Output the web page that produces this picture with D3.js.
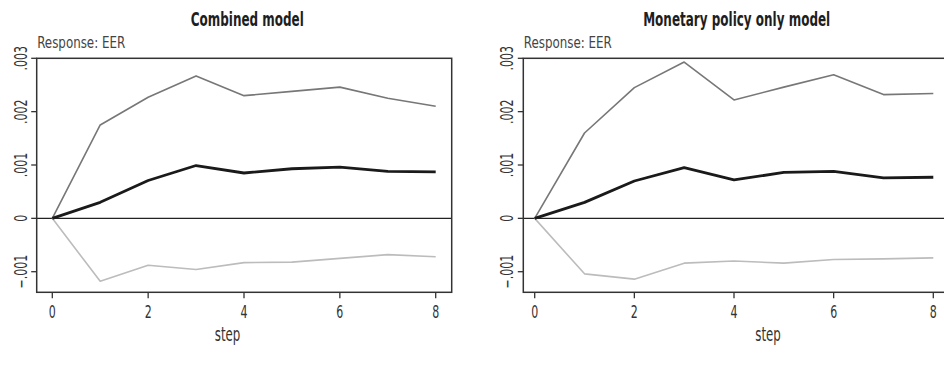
<!DOCTYPE html>
<html>
<head>
<meta charset="utf-8">
<script src="https://cdn.jsdelivr.net/npm/d3@7"></script>
<style>
  body { margin: 0; background: #fff; }
  svg text { font-family: "DejaVu Sans Condensed", "DejaVu Sans", sans-serif; font-stretch: condensed; }
</style>
</head>
<body>
<svg id="chart" width="944" height="377"></svg>
<script>
var steps = [0, 1, 2, 3, 4, 5, 6, 7, 8];
var xTicks = [0, 2, 4, 6, 8];
var yTicks = [-0.001, 0, 0.001, 0.002, 0.003];
var yTickLabels = ["\u2212.001", "0", ".001", ".002", ".003"];
var titles = ["Combined model", "Monetary policy only model"];

// combined model: upper band, irf, lower band
var combinedUpper = [0, 0.00175, 0.00227, 0.00267, 0.0023, 0.00238, 0.00246, 0.00225, 0.0021];
var combinedIrf   = [0, 0.0003, 0.00071, 0.00099, 0.00085, 0.00093, 0.00096, 0.00088, 0.00087];
var combinedLower = [0, -0.00118, -0.00088, -0.00096, -0.00083, -0.00082, -0.00075, -0.00068, -0.00072];

// monetary policy only model
var monetaryUpper = [0, 0.0016, 0.00245, 0.00293, 0.00222, 0.00246, 0.00269, 0.00232, 0.00234];
var monetaryIrf   = [0, 0.0003, 0.0007, 0.00095, 0.00072, 0.00086, 0.00088, 0.00076, 0.00077];
var monetaryLower = [0, -0.00104, -0.00114, -0.00084, -0.0008, -0.00084, -0.00077, -0.00076, -0.00074];

var svg = d3.select("#chart");

var panels = [
  {title: titles[0], upper: combinedUpper, irf: combinedIrf, lower: combinedLower,
   left: 36.7, right: 451.7, x0: 52.3, x8: 435.7, titleX: 247.3, titleW: 113, stepX: 227.5},
  {title: titles[1], upper: monetaryUpper, irf: monetaryIrf, lower: monetaryLower,
   left: 523.3, right: 950, x0: 534.7, x8: 933.3, titleX: 736.7, titleW: 187, stepX: 768}
];

var plotTop = 58.3, plotBottom = 292.3;

// text squeezed horizontally to mimic the condensed face of the original
function squeezed(g, str, x, y, size, sx, rot) {
  return g.append("text")
    .attr("transform", "translate(" + x + "," + y + ") rotate(" + (rot || 0) + ") scale(" + sx + ",1)")
    .attr("text-anchor", "middle")
    .attr("font-size", size)
    .attr("fill", "#333")
    .text(str);
}

panels.forEach(function(p) {
  var g = svg.append("g");

  var x = d3.scaleLinear().domain([0, 8]).range([p.x0, p.x8]);
  var y = d3.scaleLinear().domain([-0.001, 0.003]).range([271.7, 58.3]);

  // title
  g.append("text")
    .attr("x", p.titleX)
    .attr("y", 26)
    .attr("text-anchor", "middle")
    .attr("font-size", 20)
    .attr("font-weight", "bold")
    .attr("textLength", p.titleW)
    .attr("lengthAdjust", "spacingAndGlyphs")
    .attr("fill", "#1e1e1e")
    .text(p.title);

  g.append("text")
    .attr("x", p.left + 0.5)
    .attr("y", 48.3)
    .attr("font-size", 16)
    .attr("textLength", 88)
    .attr("lengthAdjust", "spacingAndGlyphs")
    .attr("fill", "#444")
    .text("Response: EER");

  // zero line
  g.append("line")
    .attr("x1", p.left).attr("x2", p.right)
    .attr("y1", y(0)).attr("y2", y(0))
    .attr("stroke", "#222")
    .attr("stroke-width", 1.3);

  var line = d3.line()
    .x(function(d, i) { return x(steps[i]); })
    .y(function(d) { return y(d); });

  var series = [
    {data: p.lower, color: "#bcbcbc", width: 1.6},
    {data: p.upper, color: "#777", width: 1.6},
    {data: p.irf, color: "#1a1a1a", width: 2.8}
  ];
  series.forEach(function(s) {
    g.append("path")
      .datum(s.data)
      .attr("fill", "none")
      .attr("stroke", s.color)
      .attr("stroke-width", s.width)
      .attr("stroke-linejoin", "round")
      .attr("d", line);
  });

  // frame
  g.append("rect")
    .attr("x", p.left).attr("y", plotTop)
    .attr("width", p.right - p.left)
    .attr("height", plotBottom - plotTop)
    .attr("fill", "none")
    .attr("stroke", "#333")
    .attr("stroke-width", 1.5);

  // y ticks
  yTicks.forEach(function(t, i) {
    g.append("line")
      .attr("x1", p.left - 5.5).attr("x2", p.left)
      .attr("y1", y(t)).attr("y2", y(t))
      .attr("stroke", "#333").attr("stroke-width", 1.3);
    squeezed(g, yTickLabels[i], p.left - 10, y(t), 17, 0.72, -90);
  });

  // x ticks
  xTicks.forEach(function(t) {
    g.append("line")
      .attr("x1", x(t)).attr("x2", x(t))
      .attr("y1", plotBottom).attr("y2", plotBottom + 6)
      .attr("stroke", "#333").attr("stroke-width", 1.3);
    squeezed(g, t, x(t), 317.7, 17, 0.72, 0);
  });

  g.append("text")
    .attr("x", p.stepX)
    .attr("y", 340.5)
    .attr("text-anchor", "middle")
    .attr("font-size", 19)
    .attr("textLength", 25.5)
    .attr("lengthAdjust", "spacingAndGlyphs")
    .attr("fill", "#333")
    .text("step");
});
</script>
</body>
</html>
